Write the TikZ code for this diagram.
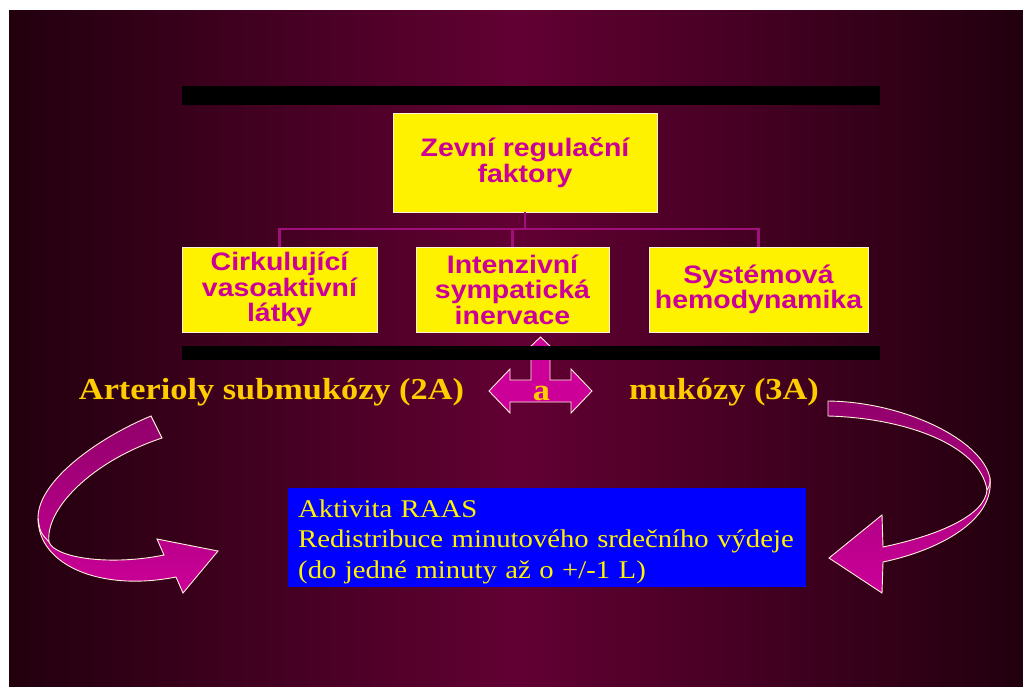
\documentclass[tikz,border=0pt]{standalone}
\usepackage{fontspec}
\setmainfont[FakeStretch=1.125]{Liberation Serif}
\newfontfamily\boxfont[FakeStretch=1.125]{Liberation Sans}
\usetikzlibrary{positioning}

\definecolor{bgdark}{HTML}{22000E}
\definecolor{bgmid}{HTML}{620033}
\definecolor{boxtext}{HTML}{CC0099}
\definecolor{linkcol}{HTML}{A0107A}
\definecolor{gold}{HTML}{FFCC00}
\definecolor{arrfill}{HTML}{CC0099}
\definecolor{arrdark}{HTML}{90006A}
\definecolor{rim}{HTML}{FFF0D8}

\begin{document}
\begin{tikzpicture}[x=1pt,y=-1pt,
  factor/.style={draw=rim,line width=0.8pt,fill=yellow,text=boxtext,align=center,inner sep=0pt,
    font=\boxfont\bfseries\fontsize{25.3}{25.5}\selectfont},
  link/.style={draw=linkcol,line width=2.2pt},
  ribbon/.style={draw=rim,line width=0.9pt,top color=arrdark,bottom color=arrfill},
  heading/.style={text=gold,inner sep=0pt,font=\bfseries\fontsize{30.5}{32}\selectfont}]
\useasboundingbox (0,0) rectangle (1023,686);
\fill[white] (0,0) rectangle (1023,686);

% slide background
\shade[left color=bgdark,right color=bgdark,middle color=bgmid] (9,10) rectangle (1023,686);
\fill[black] (182,86) rectangle (880,105);

% factor boxes
\node[factor,minimum width=264,minimum height=99] (zevni) at (525,162.5) {Zevní regulační\\faktory};
\node[factor,minimum width=195,minimum height=85] (cirk) at (279.5,289.5) {Cirkulující\\vasoaktivní\\látky};
\node[factor,minimum width=193,minimum height=85] (inerv) at (512.5,289.5) {Intenzivní\\sympatická\\inervace};
\node[factor,minimum width=219,minimum height=85] (syst) at (758.5,289.5) {Systémová\\hemodynamika};

\coordinate (bus) at (525,229);
\draw[link] (zevni.south) -- (bus);
\draw[link] (cirk.north) -- (cirk.north |- bus) -| (syst.north);
\draw[link] (inerv.north) -- (inerv.north |- bus);

% three-way arrow (partly under the bar)
\draw[draw=rim,line width=0.9pt,fill=arrfill]
  (489,391) -- (510,369) -- (510,380) -- (531,380) -- (531,358) -- (518.5,358)
  -- (540.5,337) -- (562.5,358) -- (550,358) -- (550,380) -- (571,380) -- (571,369)
  -- (592,391) -- (571,413) -- (571,402) -- (510,402) -- (510,413) -- cycle;
\fill[black] (182,346) rectangle (880,360);

\node[heading,anchor=base] (sub) at (271.5,399.5) {Arterioly submukózy (2A)};
\node[heading,anchor=base] (and) at (541.5,400) {a};
\node[heading,anchor=base] (muk) at (724,399.5) {mukózy (3A)};

% curved arrows
\shadedraw[ribbon] (151,416) .. controls (100,437) and (38,480) .. (38,518)
  .. controls (38,565) and (100,592) .. (176,577) -- (183,593) -- (218,551) -- (157,539) -- (164,555)
  .. controls (110,566) and (55,558) .. (49,542)
  .. controls (45,510) and (90,462) .. (162,438) -- cycle;
\draw[rim,line width=0.9pt] (38,518) .. controls (40,532) .. (49,542);

\shadedraw[ribbon] (828,401) .. controls (905,402) and (982,440) .. (990,478)
  .. controls (995,520) and (940,550) .. (883,562) -- (882,593) -- (829,558) -- (882,515) -- (883,547)
  .. controls (940,535) and (985,515) .. (987,490)
  .. controls (980,445) and (905,418) .. (828,416) -- cycle;
\draw[rim,line width=0.9pt] (990,478) .. controls (990,485) .. (987,490);

% result box
\node[fill=blue,text=yellow,anchor=north west,minimum width=518,minimum height=99,
  text width=498,inner xsep=10,inner ysep=0,align=left,
  font=\fontsize{25.5}{30.3}\selectfont] (raas) at (288,488)
  {\rule{0pt}{26pt}Aktivita RAAS\\Redistribuce minutového srdečního výdeje\\(do jedné minuty až o +/-1 L)};
\end{tikzpicture}
\end{document}
